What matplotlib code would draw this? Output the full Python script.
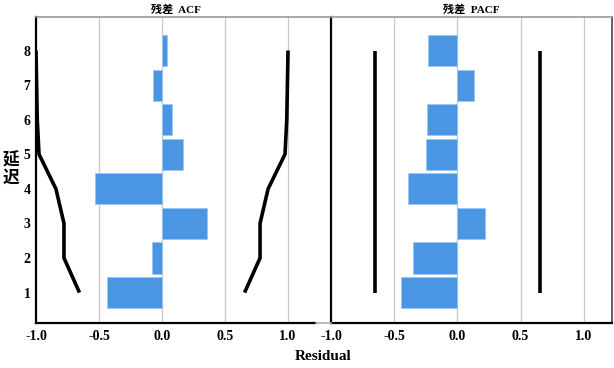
import matplotlib
matplotlib.use("Agg")
import matplotlib.pyplot as plt
from matplotlib.lines import Line2D

plt.rcParams['font.family'] = ['Liberation Serif', 'Noto Sans CJK SC', 'DejaVu Sans']

lags = [1, 2, 3, 4, 5, 6, 7, 8]
acf_values = [-0.44, -0.08, 0.36, -0.53, 0.167, 0.08, -0.07, 0.04]
acf_upper = [0.655, 0.778, 0.778, 0.842, 0.976, 0.99, 0.995, 1.0]
acf_lower = [-v for v in acf_upper]
pacf_values = [-0.444, -0.355, 0.216, -0.394, -0.248, -0.24, 0.13, -0.233]
pacf_upper = [0.652] * 8
pacf_lower = [-0.652] * 8
xticks = [-1.0, -0.5, 0.0, 0.5, 1.0]
xticklabels = ['-1.0', '-0.5', '0.0', '0.5', '1.0']
titles = ['残差  ACF', '残差  PACF']

W, H = 614, 368
fig = plt.figure(figsize=(W / 100, H / 100), dpi=100)

def fx(px):
    return px / W

def fy(py):
    return 1 - py / H

top, bottom = 17, 323
axL = fig.add_axes([fx(36), fy(bottom), fx(316 - 36), (bottom - top) / H])
axR = fig.add_axes([fx(331.3), fy(bottom), fx(611.7 - 331.3), (bottom - top) / H])

# gray frame pieces linking the two panels
frame_kw = dict(transform=fig.transFigure, color='#9a9a9a', linewidth=1.2)
fig.lines.append(Line2D([fx(36), fx(611.7)], [fy(top), fy(top)], **frame_kw))
fig.lines.append(Line2D([fx(316), fx(331.3)], [fy(bottom), fy(bottom)], color='#b0b0b0',
                        linewidth=1.2, transform=fig.transFigure))

bar_color = '#4A96E2'
for ax, vals, up, lo, title in [(axL, acf_values, acf_upper, acf_lower, titles[0]),
                                (axR, pacf_values, pacf_upper, pacf_lower, titles[1])]:
    ax.set_xlim(-1.0, 1.222)
    ax.set_ylim(0.12, 8.97)
    ax.set_xticks(xticks)
    ax.set_xticklabels(xticklabels, fontsize=10, fontweight='bold')
    ax.grid(axis='x', color='#c8c8c8', linewidth=0.9)
    ax.set_axisbelow(True)
    ax.barh(lags, vals, height=0.9, color=bar_color, edgecolor='#9cc6f2', linewidth=0.6, zorder=2)
    ax.plot(up, lags, color='black', linewidth=2.6, zorder=3, solid_capstyle='butt')
    ax.plot(lo, lags, color='black', linewidth=2.6, zorder=3, solid_capstyle='butt')
    ax.tick_params(axis='x', length=0, pad=5)
    ax.tick_params(axis='y', length=0, pad=4)
    ax.set_title(title, fontsize=8, fontweight='bold', pad=3)
    ax.patch.set_alpha(0)
    for s in ['left', 'bottom']:
        ax.spines[s].set_color('black')
        ax.spines[s].set_linewidth(1.6)
    ax.spines['top'].set_visible(False)

axL.spines['right'].set_visible(False)
axR.spines['right'].set_color('#555555')
axR.spines['right'].set_linewidth(1.3)

axL.set_yticks(lags)
axL.set_yticklabels([str(l) for l in lags], fontsize=10, fontweight='bold')
axR.set_yticks([])

fig.text(fx(10.5), fy(169), '延\n迟', fontsize=12, fontweight='bold', ha='center', va='center',
         linespacing=0.95, family=['Noto Sans CJK SC', 'DejaVu Sans'])
fig.text(fx(323), fy(357), 'Residual', fontsize=11, fontweight='bold', ha='center', va='center')

fig.savefig('out.png', dpi=100)
